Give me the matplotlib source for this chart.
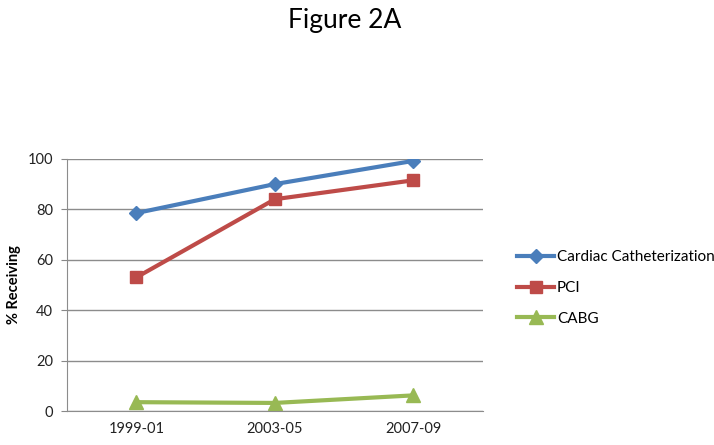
import matplotlib.pyplot as plt

periods = ["1999-01", "2003-05", "2007-09"]
cath = [78.5, 90.0, 99.2]
pci = [53.0, 84.0, 91.5]
cabg = [3.5, 3.2, 6.2]

plt.rcParams["font.family"] = ["Lato", "DejaVu Sans"]

fig = plt.figure(figsize=(7.14, 4.45), dpi=100)
ax = fig.add_axes([0.094, 0.0764, 0.582, 0.5666])

x = list(range(len(periods)))
ax.plot(x, cath, color="#4a7ebb", lw=3, marker="D", ms=7, label="Cardiac Catheterization")
ax.plot(x, pci, color="#be4b48", lw=3, marker="s", ms=9, label="PCI")
ax.plot(x, cabg, color="#98b954", lw=3, marker="^", ms=10, label="CABG")

ax.set_xlim(-0.5, 2.5)
ax.set_ylim(0, 100)
ax.set_yticks(range(0, 101, 20))
ax.set_xticks(x)
ax.set_xticklabels(periods)
ax.tick_params(axis="both", labelsize=10.5, colors="#222222")
ax.tick_params(axis="x", length=0, pad=8)
ax.tick_params(axis="y", length=4, color="#888888", pad=6)
ax.grid(axis="y", color="#8c8c8c", lw=1)
ax.set_axisbelow(True)
for side in ("top", "right"):
    ax.spines[side].set_visible(False)
ax.spines["left"].set_color("#8c8c8c")
ax.spines["bottom"].set_color("#8c8c8c")
ax.set_ylabel("% Receiving", fontsize=10.5, fontweight="bold")
ax.yaxis.set_label_coords(-0.111, 0.5)

fig.text(0.483, 0.955, "Figure 2A", fontsize=19, ha="center", va="center")

ax.legend(loc="center left", bbox_to_anchor=(1.05, 0.488), frameon=False,
          fontsize=11, handlelength=2.4, handletextpad=0.2, labelspacing=1.1)

fig.savefig("out.png", dpi=100)
